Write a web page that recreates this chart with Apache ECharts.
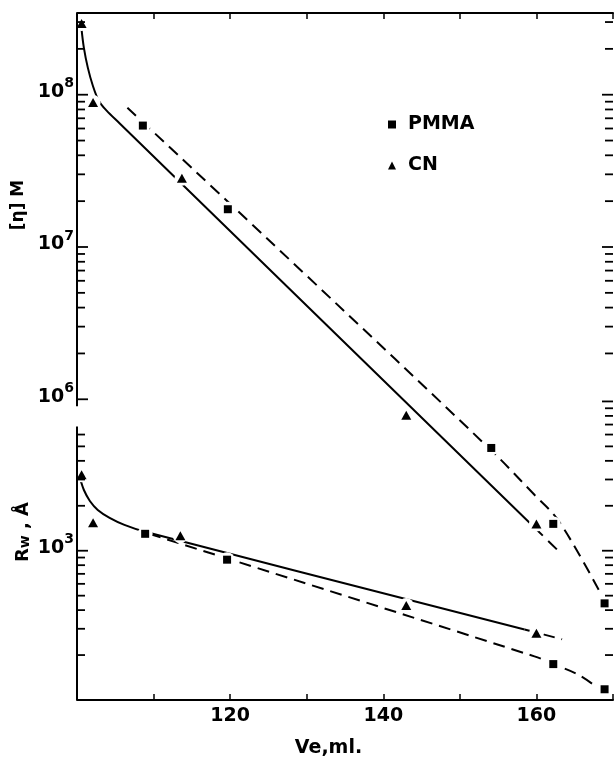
<!DOCTYPE html>
<html><head><meta charset="utf-8">
<script src="https://cdn.jsdelivr.net/npm/echarts@6/dist/echarts.min.js"></script>
<style>html,body{margin:0;padding:0;background:#fff}#c{width:616px;height:763px}</style>
</head><body><div id="c"></div>
<script>
// ---- axes ----
const xMin = 100, xMax = 170, xStep = 10;
const xTickLabels = [120, 140, 160];

const etaMin = 1.06e4, etaMax = 3.44e8;          // [η]M scale
const etaLabels = [1e6, 1e7, 1e8];
const etaTicksLeft = [1e6,2e6,3e6,4e6,5e6,6e6,7e6,8e6,9e6,1e7,2e7,3e7,4e7,5e7,6e7,7e7,8e7,9e7,1e8,2e8,3e8];
const etaTicksRight = [2e6,3e6,4e6,5e6,6e6,7e6,8e6,9e6,1e7,2e7,3e7,4e7,5e7,6e7,7e7,8e7,9e7,1e8,2e8,3e8];
const etaAxisSpan = [3.44e8, 9.0e5];

const rwMin = 100, rwMax = 4e6;                   // Rw scale
const rwLabels = [1e3];
const rwTicksLeft = [200,300,400,500,600,700,800,900,1000,2000,3000,4000,5000,6000];
const rwTicksRight = [200,300,400,500,600,700,800,900,1000,2000,3000,4000,5000,6000,7000,8000,9000,10000];
const rwAxisSpan = [6800, 100];

// ---- measured points ----
const etaPMMA = [[108.6,6.27e7],[119.7,1.77e7],[154.1,4.79e5],[162.2,1.52e5],[168.9,4.57e4]];
const etaCN   = [[100.6,2.94e8],[102.1,8.9e7],[113.7,2.83e7],[143.0,7.85e5],[160.0,1.52e5]];
const rwPMMA  = [[108.9,1298],[119.6,871],[162.2,174],[168.9,118]];
const rwCN    = [[100.6,3225],[102.1,1537],[113.5,1259],[143.0,430],[160.0,280]];

// ---- drawn curves ----
const etaCNFit    = [[100.58,2.74e8],[100.90,2.03e8],[101.42,1.50e8],[102.06,1.15e8],[102.84,9.14e7],[103.87,7.86e7],[105.55,6.50e7],[159.74,1.44e5]];
const etaCNFitExt = [[159.74,1.44e5],[162.7,1.03e5]];
const etaPMMAFit  = [[106.58,8.22e7],[128.77,7.4e6],[154.19,4.57e5],[159.74,2.36e5],[162.58,1.67e5],[165.81,9.14e4],[168.52,5.15e4]];
const rwCNFit     = [[100.39,3066],[100.90,2551],[101.68,2154],[102.71,1876],[104.26,1660],[106.19,1490],[108.9,1339],[158.45,297]];
const rwCNFitExt  = [[158.45,297],[163.35,255]];
const rwPMMAFit   = [[109.42,1298],[159.74,196],[162.58,171],[165.55,147],[167.87,122]];

const FONT = 'DejaVu Sans';
const isDecade = v => Math.abs(Math.log10(v) - Math.round(Math.log10(v))) < 1e-6;
function decadeFmt(list){
  return function(v){
    if (!isDecade(v)) return '';
    const e = Math.round(Math.log10(v));
    if (!list.some(l => Math.round(Math.log10(l)) === e)) return '';
    return '{b|10}{s|' + e + '}';
  };
}
const labelRich = {
  b:{fontFamily:FONT,fontWeight:'bold',fontSize:19,color:'#000',lineHeight:20,padding:[0,0,3,0],verticalAlign:'bottom'},
  s:{fontFamily:FONT,fontWeight:'bold',fontSize:14,color:'#000',lineHeight:14,padding:[0,0,14,0],verticalAlign:'bottom'}
};

function tickSeries(values, xv, yIdx, side){
  return {type:'custom', xAxisIndex:0, yAxisIndex:yIdx, silent:true, z:6, clip:false,
    data: values.map(v => [xv, v]),
    renderItem: function(params, api){
      const v = api.value(1);
      const p = api.coord([api.value(0), v]);
      const len = isDecade(v) ? 11 : 8;
      const dir = side === 'left' ? 1 : -1;
      return {type:'line', shape:{x1:p[0], y1:p[1], x2:p[0]+dir*len, y2:p[1]},
        style:{stroke:'#000', lineWidth:1.8}};
    }};
}
function axisSeg(span, yIdx){
  return {type:'custom', xAxisIndex:0, yAxisIndex:yIdx, silent:true, z:6, clip:false,
    data:[[xMin, span[0], span[1]]],
    encode:{x:0, y:[1,2]},
    renderItem: function(params, api){
      const a = api.coord([api.value(0), api.value(1)]);
      const b = api.coord([api.value(0), api.value(2)]);
      return {type:'line', shape:{x1:a[0],y1:a[1],x2:b[0],y2:b[1]}, style:{stroke:'#000',lineWidth:2}};
    }};
}
function lineSeries(data, yIdx, dashed){
  return {type:'line', xAxisIndex:0, yAxisIndex:yIdx, data, symbol:'none', smooth:0.35, silent:true, z:2,
    lineStyle:{color:'#000', width:2, type: dashed ? [12,7] : 'solid'}};
}
function halo(data, yIdx){
  return {type:'scatter', xAxisIndex:0, yAxisIndex:yIdx, data, symbol:'circle', symbolSize:15, silent:true, z:3,
    itemStyle:{color:'#fff', opacity:1}};
}
function markers(name, data, yIdx, sym){
  return {name, type:'scatter', xAxisIndex:0, yAxisIndex:yIdx, data, symbol:sym,
    symbolSize: sym === 'rect' ? 8 : [10,9], z:4, itemStyle:{color:'#000', opacity:1}};
}

const chart = echarts.init(document.getElementById('c'), null, {renderer:'canvas'});
chart.setOption({
  animation:false,
  backgroundColor:'#fff',
  grid:{left:77, top:13, right:-4, bottom:60},
  legend:{
    left:383, top:110, orient:'vertical', itemWidth:8, itemHeight:8, itemGap:22, selectedMode:false,
    data:[{name:'PMMA', icon:'rect'}, {name:'CN', icon:'triangle'}],
    textStyle:{fontFamily:FONT, fontWeight:'bold', fontSize:19, color:'#000', padding:[0,0,0,7]}
  },
  xAxis:[
    {type:'value', position:'bottom', min:xMin, max:xMax, interval:xStep,
     name:'Ve,ml.', nameLocation:'middle', nameGap:39,
     nameTextStyle:{fontFamily:FONT, fontWeight:'bold', fontSize:19, color:'#000', padding:[0,33,0,0]},
     axisLine:{show:true, lineStyle:{color:'#000', width:2}},
     axisTick:{show:true, inside:true, length:6, lineStyle:{color:'#000', width:1.5}},
     axisLabel:{margin:7, fontFamily:FONT, fontWeight:'bold', fontSize:19, color:'#000',
       formatter: v => xTickLabels.includes(v) ? String(v) : ''},
     splitLine:{show:false}},
    {type:'value', position:'top', min:xMin, max:xMax, interval:xStep,
     axisLine:{show:true, lineStyle:{color:'#000', width:2}},
     axisTick:{show:true, inside:true, length:6, lineStyle:{color:'#000', width:1.5}},
     axisLabel:{show:false}, splitLine:{show:false}}
  ],
  yAxis:[
    {type:'log', logBase:10, min:etaMin, max:etaMax, position:'left',
     axisLine:{show:false}, axisTick:{show:false}, splitLine:{show:false}, minorTick:{show:false},
     axisLabel:{margin:3, formatter:decadeFmt(etaLabels), rich:labelRich}},
    {type:'log', logBase:10, min:rwMin, max:rwMax, position:'left', offset:0,
     axisLine:{show:false}, axisTick:{show:false}, splitLine:{show:false}, minorTick:{show:false},
     axisLabel:{margin:3, formatter:decadeFmt(rwLabels), rich:labelRich}}
  ],
  graphic:[
    {type:'text', x:19, y:205, rotation:Math.PI/2,
     style:{text:'[η] M', fontFamily:FONT, fontWeight:'bold', fontSize:17, fill:'#000', align:'center', verticalAlign:'middle'}},
    {type:'text', x:22, y:532, rotation:Math.PI/2,
     style:{text:'{r|R}{w|w}{r| , Å}', align:'center', verticalAlign:'middle',
       rich:{r:{fontFamily:FONT, fontWeight:'bold', fontSize:18, fill:'#000', lineHeight:20, verticalAlign:'bottom'},
             w:{fontFamily:FONT, fontWeight:'bold', fontSize:14, fill:'#000', lineHeight:14, padding:[6,0,0,0], verticalAlign:'top'}}}}
  ],
  series:[
    lineSeries(etaCNFit, 0, false),
    lineSeries(etaCNFitExt, 0, true),
    lineSeries(etaPMMAFit, 0, true),
    lineSeries(rwCNFit, 1, false),
    lineSeries(rwCNFitExt, 1, true),
    lineSeries(rwPMMAFit, 1, true),
    halo(etaPMMA, 0), halo(etaCN, 0), halo(rwPMMA, 1), halo(rwCN, 1),
    markers('PMMA', etaPMMA, 0, 'rect'),
    markers('CN', etaCN, 0, 'triangle'),
    markers('PMMA', rwPMMA, 1, 'rect'),
    markers('CN', rwCN, 1, 'triangle'),
    tickSeries(etaTicksLeft, xMin, 0, 'left'),
    tickSeries(etaTicksRight, xMax, 0, 'right'),
    tickSeries(rwTicksLeft, xMin, 1, 'left'),
    tickSeries(rwTicksRight, xMax, 1, 'right'),
    axisSeg(etaAxisSpan, 0),
    axisSeg(rwAxisSpan, 1)
  ]
});
</script>
</body></html>
